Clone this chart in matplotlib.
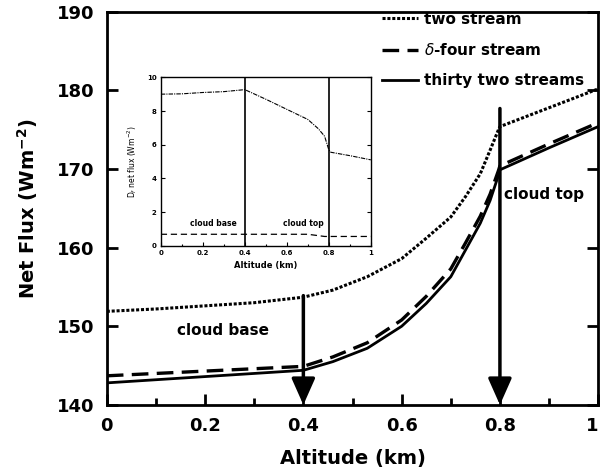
import matplotlib
matplotlib.use('Agg')
import matplotlib.pyplot as plt
from matplotlib.ticker import MultipleLocator

# --- main panel data ---
alt = [0, 0.1, 0.2, 0.3, 0.4, 0.46, 0.53, 0.6, 0.65, 0.7, 0.73, 0.76, 0.78, 0.797, 0.8, 0.9, 1.0]
flux_two = [151.9, 152.2, 152.6, 153.0, 153.7, 154.6, 156.3, 158.6, 161.2, 163.9, 166.5,
            169.4, 172.4, 175.0, 175.4, 177.8, 180.2]
flux_four = [143.7, 144.0, 144.3, 144.6, 144.9, 146.1, 147.9, 150.8, 153.8, 157.3, 160.6,
             164.0, 166.8, 169.8, 170.4, 173.2, 175.9]
flux_32 = [142.8, 143.2, 143.6, 144.0, 144.4, 145.5, 147.2, 150.0, 152.9, 156.3, 159.7,
           163.1, 166.0, 169.2, 169.9, 172.7, 175.4]

cloud_base = 0.4
cloud_top = 0.8

# --- inset data ---
alt_inset = [0, 0.1, 0.2, 0.3, 0.4, 0.5, 0.6, 0.7, 0.75, 0.78, 0.8, 0.81, 0.9, 1.0]
diff_two = [9.0, 9.02, 9.1, 9.15, 9.27, 8.7, 8.1, 7.5, 6.95, 6.5, 5.7, 5.55, 5.35, 5.1]
alt_inset2 = [0, 0.4, 0.7, 0.78, 0.8, 1.0]
diff_four = [0.68, 0.68, 0.68, 0.55, 0.55, 0.55]

fig = plt.figure(figsize=(6.0, 4.73), dpi=100)
ax = fig.add_axes([0.178, 0.144, 0.819, 0.831])

ax.plot(alt, flux_two, color='black', lw=2.2, linestyle=(0, (1, 0.6)), label='two stream')
ax.plot(alt, flux_four, color='black', lw=2.4, linestyle=(0, (5, 2.5)), label=r'$\delta$-four stream')
ax.plot(alt, flux_32, color='black', lw=2.0, linestyle='-', label='thirty two streams')

# arrows marking cloud base / top
arrow = dict(arrowstyle='-|>,head_width=0.4,head_length=0.9', lw=2.5, color='black',
             shrinkA=0, shrinkB=0, mutation_scale=18)
ax.annotate('', xy=(cloud_base, 140), xytext=(cloud_base, 153.9), arrowprops=arrow)
ax.annotate('', xy=(cloud_top, 140), xytext=(cloud_top, 177.7), arrowprops=arrow)
ax.text(0.142, 149.4, 'cloud base', fontsize=11, fontweight='bold', va='center')
ax.text(0.808, 166.7, 'cloud top', fontsize=11, fontweight='bold', va='center')

ax.set_xlim(0, 1)
ax.set_ylim(140, 190)
ax.xaxis.set_minor_locator(MultipleLocator(0.1))
ax.yaxis.set_major_locator(MultipleLocator(10))
ax.set_xticks([0, 0.2, 0.4, 0.6, 0.8, 1.0])
ax.set_xticklabels(['0', '0.2', '0.4', '0.6', '0.8', '1'])
ax.tick_params(which='both', direction='in', right=True, width=2)
ax.tick_params(which='major', length=8, labelsize=13, pad=9)
ax.tick_params(which='minor', length=5)
for lab in ax.get_xticklabels() + ax.get_yticklabels():
    lab.set_fontweight('bold')
ax.get_xticklabels()[-1].set_horizontalalignment('right')
for sp in ax.spines.values():
    sp.set_linewidth(2)

ax.set_xlabel('Altitude (km)', fontsize=14, fontweight='bold', labelpad=10)
ax.set_ylabel(r'Net Flux (Wm$^{\mathbf{-2}}$)', fontsize=14, fontweight='bold', labelpad=12)

leg = ax.legend(loc='upper right', bbox_to_anchor=(1.0, 1.035), frameon=False,
                handlelength=2.4, handletextpad=0.4, labelspacing=1.0,
                prop={'weight': 'bold', 'size': 11})

# --- inset ---
ins = fig.add_axes([0.268, 0.4805, 0.35, 0.356])
ins.plot(alt_inset, diff_two, color='black', lw=0.8, linestyle=(0, (4, 1, 1, 1)))
ins.plot(alt_inset2, diff_four, color='black', lw=0.9, linestyle=(0, (5, 3)))
ins.axvline(cloud_base, color='black', lw=1.2)
ins.axvline(cloud_top, color='black', lw=1.2)
ins.text(0.25, 1.2, 'cloud base', fontsize=5.5, fontweight='bold', ha='center')
ins.text(0.68, 1.2, 'cloud top', fontsize=5.5, fontweight='bold', ha='center')
ins.set_xlim(0, 1)
ins.set_ylim(0, 10)
ins.set_xticks([0, 0.2, 0.4, 0.6, 0.8, 1.0])
ins.set_xticklabels(['0', '0.2', '0.4', '0.6', '0.8', '1'])
ins.xaxis.set_minor_locator(MultipleLocator(0.1))
ins.set_yticks([0, 2, 4, 6, 8, 10])
ins.tick_params(which='both', direction='in', right=True, labelsize=5, width=0.8, pad=3)
ins.tick_params(which='major', length=3)
ins.tick_params(which='minor', length=1.5)
for lab in ins.get_xticklabels() + ins.get_yticklabels():
    lab.set_fontweight('bold')
for sp in ins.spines.values():
    sp.set_linewidth(1)
ins.set_xlabel('Altitude (km)', fontsize=6, fontweight='bold', labelpad=4)
ins.set_ylabel(r'D$_f$ net flux (Wm$^{-2}$)', fontsize=5.5, labelpad=6)

fig.savefig('out.png', dpi=100)
